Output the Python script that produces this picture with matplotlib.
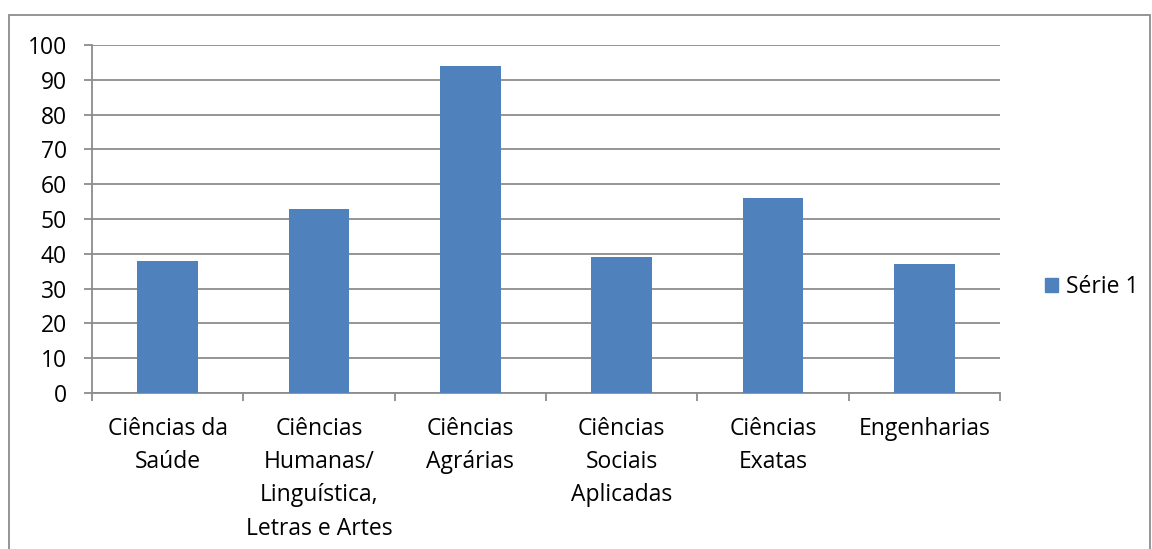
import matplotlib
matplotlib.use("Agg")
import matplotlib.pyplot as plt
from matplotlib.patches import Rectangle

# data
categories = ["Ciências da\nSaúde", "Ciências\nHumanas/\nLinguística,\nLetras e Artes",
              "Ciências\nAgrárias", "Ciências\nSociais\nAplicadas", "Ciências\nExatas",
              "Engenharias"]
values = [38, 53, 94, 39, 56, 37]
series_name = "Série 1"

plt.rcParams['font.family'] = ['Open Sans', 'DejaVu Sans']
grid_color = "#8c8c8c"
bar_color = "#4f81bd"
fs = 16.5

fig = plt.figure(figsize=(11.52, 5.49), dpi=100)
W, H = 1152, 549
ax = fig.add_axes([92 / W, 1 - 393 / H, (1000 - 92) / W, (393 - 45) / H])

x = list(range(len(categories)))
ax.bar(x, values, width=0.4, color=bar_color, zorder=3)

ax.set_xlim(-0.5, len(categories) - 0.5)
ax.set_ylim(0, 100)
ax.set_yticks(range(0, 101, 10))
ax.yaxis.grid(True, color=grid_color, linewidth=1.3, zorder=0)

# category ticks sit between groups, labels at centres
ax.set_xticks([i - 0.5 for i in range(len(categories) + 1)])
ax.set_xticklabels([])
ax.set_xticks(x, minor=True)
ax.set_xticklabels(categories, minor=True, fontsize=fs, linespacing=1.52, va="top")
ax.tick_params(axis="x", which="minor", length=0, pad=17)
ax.tick_params(axis="x", which="major", length=6, color=grid_color, width=1.3)
ax.tick_params(axis="y", length=6, color=grid_color, width=1.3, labelsize=fs, pad=12)

for side in ["top", "right"]:
    ax.spines[side].set_visible(False)
for side in ["left", "bottom"]:
    ax.spines[side].set_color(grid_color)
    ax.spines[side].set_linewidth(1.3)

# legend
leg = ax.legend([Rectangle((0, 0), 1, 1, color=bar_color)], [series_name],
                loc="center left", bbox_to_anchor=(1024 / W, 1 - 287 / H),
                bbox_transform=fig.transFigure, frameon=False, fontsize=fs,
                handlelength=0.6, handleheight=0.6, handletextpad=0.35)

# outer chart border
fig.patches.append(Rectangle((9 / W, -0.05), (1150 - 9) / W, 1.05 - 15 / H,
                             transform=fig.transFigure, fill=False,
                             edgecolor="#8c8c8c", linewidth=1.3))

fig.savefig("out.png", dpi=100)
